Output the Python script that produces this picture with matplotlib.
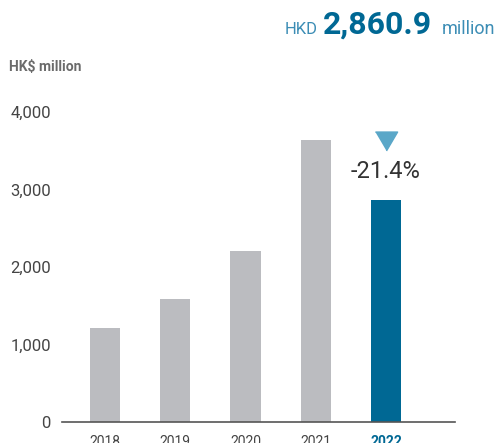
import matplotlib.pyplot as plt
import numpy as np

# ================= DATA =================
years = ["2018", "2019", "2020", "2021", "2022"]
values = [1215, 1590, 2210, 3640, 2860.9]
change_label = "-21.4%"
headline = "2,860.9"
y_ticks = [0, 1000, 2000, 3000, 4000]

# ================= STYLE =================
grey_bar = "#bbbcc0"
blue_bar = "#006894"
light_blue = "#5aa7c8"
head_blue = "#3c8db5"
text_grey = "#444444"

plt.rcParams.update({"font.family": ["Roboto", "DejaVu Sans"]})

fig = plt.figure(figsize=(4.98, 4.43), dpi=100)
ax = fig.add_axes([0.1245, 0.0474, 0.789, 0.6998])

x = np.arange(len(years))
colors = [grey_bar] * (len(years) - 1) + [blue_bar]
ax.bar(x, values, width=0.43, color=colors, zorder=2)

ax.set_xlim(-0.61, 4.98)
ax.set_ylim(0, 4000)
ax.set_yticks(y_ticks)
ax.set_yticklabels([f"{v:,}" for v in y_ticks], fontsize=12, color=text_grey)
ax.set_xticks(x)
ax.set_xticklabels(years, fontsize=10, color=text_grey)
ax.get_xticklabels()[-1].set_color(blue_bar)
ax.get_xticklabels()[-1].set_fontweight("bold")
ax.tick_params(axis="y", length=0, pad=8)
ax.tick_params(axis="x", length=0, pad=9)

for side in ["top", "right", "left"]:
    ax.spines[side].set_visible(False)
ax.spines["bottom"].set_color("#555555")
ax.spines["bottom"].set_linewidth(1.2)

# change marker above latest bar
tri = [(-1, 0.85), (1, 0.85), (0, -0.85)]
ax.plot([x[-1]], [values[-2] - 10], marker=tri, markersize=16,
        color=light_blue, linestyle="none", zorder=3)
ax.text(x[-1], values[-2] - 410, change_label, ha="center", va="center",
        fontsize=17, color="#333333")

# header texts
fig.text(0.018, 0.848, "HK$ million", fontsize=10, fontweight="bold",
         color="#6b6b6b", ha="left", va="center")

fig.text(0.572, 0.924, "HKD", fontsize=12, color=head_blue, ha="left", va="baseline")
fig.text(0.649, 0.924, headline, fontsize=23, fontweight="bold", color=blue_bar,
         ha="left", va="baseline")
fig.text(0.994, 0.924, "million", fontsize=13, color=head_blue, ha="right", va="baseline")

fig.savefig("out.png", dpi=100)
